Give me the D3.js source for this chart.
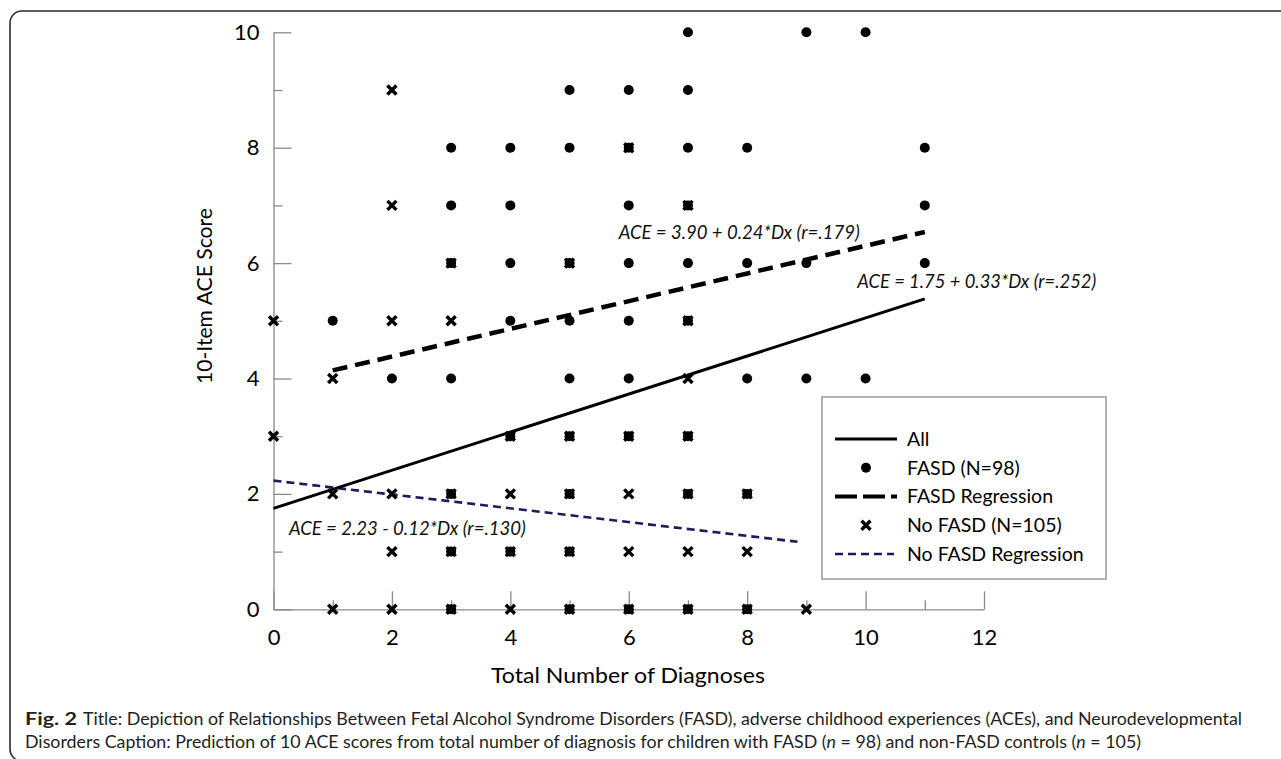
<!DOCTYPE html>
<html>
<head>
<meta charset="utf-8">
<script src="https://cdn.jsdelivr.net/npm/d3@7"></script>
<style>
  html, body { margin: 0; padding: 0; background: #fff; }
  svg { display: block; }
  text { font-family: Lato, "Open Sans", sans-serif; }
</style>
</head>
<body>
<svg id="chart" width="1281" height="759"></svg>
<script>
// ---------- data ----------
const xTickLabels = [0, 2, 4, 6, 8, 10, 12];
const yTickLabels = [0, 2, 4, 6, 8, 10];
const xMinor = [1, 3, 5, 7, 9, 11];
const yMinor = [1, 3, 5, 7, 9];

// FASD children: [total diagnoses, ACE score]
const fasdPoints = [
  [7,10],[9,10],[10,10],
  [5,9],[6,9],[7,9],
  [3,8],[4,8],[5,8],[6,8],[7,8],[8,8],[11,8],
  [3,7],[4,7],[6,7],[7,7],[11,7],
  [3,6],[4,6],[5,6],[6,6],[7,6],[8,6],[9,6],[11,6],
  [1,5],[4,5],[5,5],[6,5],[7,5],
  [2,4],[3,4],[5,4],[6,4],[8,4],[9,4],[10,4],
  [4,3],[5,3],[6,3],[7,3],
  [3,2],[5,2],[7,2],[8,2],
  [3,1],[4,1],[5,1],
  [3,0],[5,0],[6,0],[7,0],[8,0]
];
// Non-FASD controls
const noFasdPoints = [
  [2,9],
  [6,8],
  [2,7],[7,7],
  [3,6],[5,6],
  [0,5],[2,5],[3,5],[7,5],
  [1,4],[7,4],
  [0,3],[4,3],[5,3],[6,3],[7,3],
  [1,2],[2,2],[3,2],[4,2],[5,2],[6,2],[7,2],[8,2],
  [2,1],[3,1],[4,1],[5,1],[6,1],[7,1],[8,1],
  [1,0],[2,0],[3,0],[4,0],[5,0],[6,0],[7,0],[8,0],[9,0]
];
// Regression line end points
const allLine = [[0, 1.75], [11, 5.38]];
const fasdLine = [[1, 4.14], [11, 6.54]];
const noFasdLine = [[0, 2.23], [8.85, 1.17]];

const annotations = [
  {text: "ACE = 3.90 + 0.24*Dx (r=.179)", x: 5.83, y: 6.42, len: 241},
  {text: "ACE = 1.75 + 0.33*Dx (r=.252)", x: 9.86, y: 5.56, len: 239},
  {text: "ACE = 2.23 - 0.12*Dx (r=.130)", x: 0.26, y: 1.29, len: 237}
];

const legendItems = ["All", "FASD (N=98)", "FASD Regression", "No FASD (N=105)", "No FASD Regression"];

const captionBold = "Fig. 2";
const captionLine1 = "Title: Depiction of Relationships Between Fetal Alcohol Syndrome Disorders (FASD), adverse childhood experiences (ACEs), and Neurodevelopmental";
const captionLine2 = [
  ["Disorders Caption: Prediction of 10 ACE scores from total number of diagnosis for children with FASD (", "normal"],
  ["n", "italic"], [" = 98) and non-FASD controls (", "normal"], ["n", "italic"], [" = 105)", "normal"]
];

// ---------- drawing ----------
const svg = d3.select("#chart");
const axisGray = "#8a8a8a";
const navy = "#1c1c5c";

// frame
svg.append("rect")
  .attr("x", 10).attr("y", 11).attr("width", 1300).attr("height", 750)
  .attr("rx", 12).attr("ry", 12)
  .attr("fill", "none").attr("stroke", "#2a2a2a").attr("stroke-width", 1.6);

const x = d3.scaleLinear().domain([0, 12]).range([273.5, 984]);
const y = d3.scaleLinear().domain([0, 10]).range([609.3, 32.3]);

function styleAxis(g) {
  g.selectAll("path.domain").attr("stroke", axisGray).attr("stroke-width", 1.3);
  g.selectAll(".tick line").attr("stroke", axisGray).attr("stroke-width", 1.3);
  g.selectAll(".tick text").attr("fill", "#000")
    .style("font-family", "Lato, 'Open Sans', sans-serif").style("font-size", "22px");
}

// y axis
const gy = svg.append("g").attr("transform", `translate(${x(0)},0)`)
  .call(d3.axisLeft(y).tickValues(yTickLabels).tickSizeInner(-18).tickSizeOuter(0).tickPadding(14).tickFormat(d3.format("d")));
styleAxis(gy);
const gyMinor = svg.append("g").attr("transform", `translate(${x(0)},0)`)
  .call(d3.axisLeft(y).tickValues(yMinor).tickSizeInner(-9).tickSizeOuter(0).tickFormat(""));
styleAxis(gyMinor);
gyMinor.select("path.domain").remove();

// x axis
const gx = svg.append("g").attr("transform", `translate(0,${y(0)})`)
  .call(d3.axisBottom(x).tickValues(xTickLabels).tickSizeInner(-18).tickSizeOuter(0).tickPadding(20).tickFormat(d3.format("d")));
styleAxis(gx);
const gxMinor = svg.append("g").attr("transform", `translate(0,${y(0)})`)
  .call(d3.axisBottom(x).tickValues(xMinor).tickSizeInner(-9).tickSizeOuter(0).tickFormat(""));
styleAxis(gxMinor);
gxMinor.select("path.domain").remove();

// axis titles
svg.append("text")
  .attr("x", 628).attr("y", 683)
  .attr("text-anchor", "middle")
  .style("font-size", "22px").attr("fill", "#000")
  .attr("textLength", 274).attr("lengthAdjust", "spacingAndGlyphs")
  .text("Total Number of Diagnoses");
svg.append("text")
  .attr("transform", "translate(212,296) rotate(-90)")
  .attr("text-anchor", "middle")
  .style("font-size", "22px").attr("fill", "#000")
  .attr("textLength", 176).attr("lengthAdjust", "spacingAndGlyphs")
  .text("10-Item ACE Score");

// regression lines
const lineGen = d3.line().x(d => x(d[0])).y(d => y(d[1]));
svg.append("path").datum(noFasdLine).attr("d", lineGen)
  .attr("fill", "none").attr("stroke", navy).attr("stroke-width", 2.6)
  .attr("stroke-dasharray", "8,5");
svg.append("path").datum(allLine).attr("d", lineGen)
  .attr("fill", "none").attr("stroke", "#000").attr("stroke-width", 3);
svg.append("path").datum(fasdLine).attr("d", lineGen)
  .attr("fill", "none").attr("stroke", "#000").attr("stroke-width", 4.5)
  .attr("stroke-dasharray", "15,8");

// markers
const crossPath = "M-4.5,-4.5L4.5,4.5M4.5,-4.5L-4.5,4.5";
svg.append("g").selectAll("circle").data(fasdPoints).join("circle")
  .attr("cx", d => x(d[0])).attr("cy", d => y(d[1])).attr("r", 5).attr("fill", "#000");
svg.append("g").selectAll("path").data(noFasdPoints).join("path")
  .attr("transform", d => `translate(${x(d[0])},${y(d[1])})`)
  .attr("d", crossPath).attr("stroke", "#000").attr("stroke-width", 3.4).attr("fill", "none");

// annotations
svg.append("g").selectAll("text").data(annotations).join("text")
  .attr("x", d => x(d.x)).attr("y", d => y(d.y))
  .style("font-size", "19.5px").style("font-style", "italic").attr("fill", "#111")
  .attr("textLength", d => d.len).attr("lengthAdjust", "spacingAndGlyphs")
  .text(d => d.text);

// legend
const lg = svg.append("g");
lg.append("rect").attr("x", 822).attr("y", 397).attr("width", 284).attr("height", 182)
  .attr("fill", "#fff").attr("stroke", "#9a9a9a").attr("stroke-width", 1.5);
const rowY = d3.scalePoint().domain(legendItems).range([439, 554]);
const sx0 = 835, sx1 = 897, sxm = 866;
lg.append("line").attr("x1", sx0).attr("x2", sx1).attr("y1", rowY("All")).attr("y2", rowY("All"))
  .attr("stroke", "#000").attr("stroke-width", 3);
lg.append("circle").attr("cx", sxm).attr("cy", rowY("FASD (N=98)")).attr("r", 5).attr("fill", "#000");
lg.append("line").attr("x1", sx0).attr("x2", sx1).attr("y1", rowY("FASD Regression")).attr("y2", rowY("FASD Regression"))
  .attr("stroke", "#000").attr("stroke-width", 4).attr("stroke-dasharray", "22,6");
lg.append("path").attr("transform", `translate(${sxm},${rowY("No FASD (N=105)")})`)
  .attr("d", crossPath).attr("stroke", "#000").attr("stroke-width", 3.4);
lg.append("line").attr("x1", sx0).attr("x2", sx1 - 3).attr("y1", rowY("No FASD Regression")).attr("y2", rowY("No FASD Regression"))
  .attr("stroke", navy).attr("stroke-width", 2.6).attr("stroke-dasharray", "8,5");
lg.selectAll("text.lab").data(legendItems).join("text").attr("class", "lab")
  .attr("x", 907).attr("y", d => rowY(d)).attr("dy", "0.35em")
  .style("font-size", "19.5px").attr("fill", "#000")
  .text(d => d);

// caption
svg.append("text").attr("x", 25).attr("y", 725)
  .style("font-size", "16.5px").style("font-weight", "bold").attr("fill", "#231f20")
  .attr("textLength", 52).attr("lengthAdjust", "spacingAndGlyphs")
  .text(captionBold);
svg.append("text").attr("x", 83).attr("y", 725)
  .style("font-size", "16.5px").attr("fill", "#231f20")
  .attr("textLength", 1159).attr("lengthAdjust", "spacingAndGlyphs")
  .text(captionLine1);
const c2 = svg.append("text").attr("x", 25).attr("y", 748)
  .style("font-size", "16.5px").attr("fill", "#231f20")
  .attr("textLength", 1116).attr("lengthAdjust", "spacingAndGlyphs");
c2.selectAll("tspan").data(captionLine2).join("tspan")
  .style("font-style", d => d[1]).text(d => d[0]);
</script>
</body>
</html>
